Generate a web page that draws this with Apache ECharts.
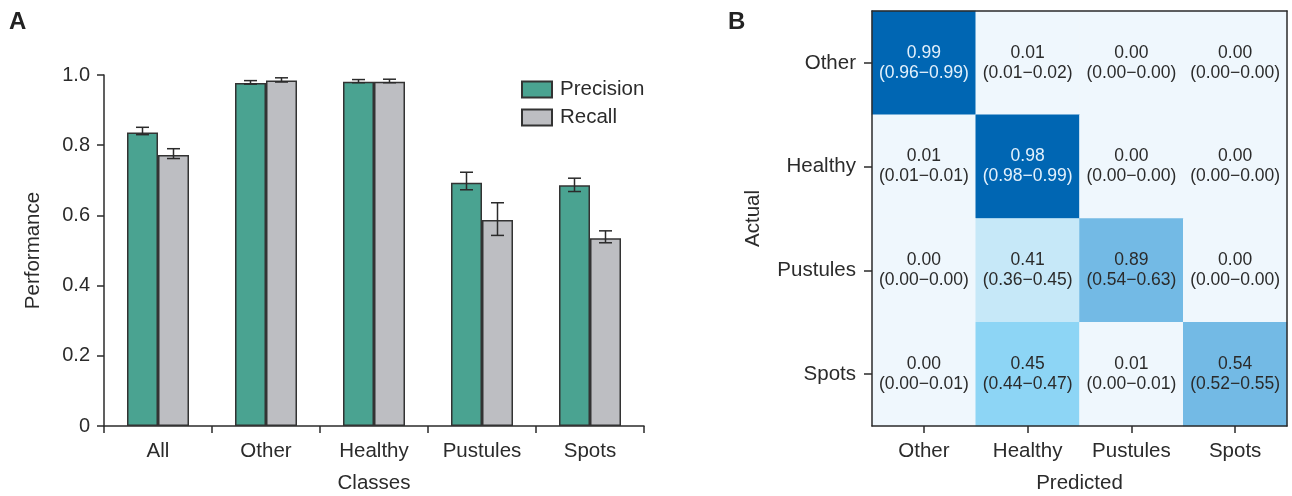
<!DOCTYPE html>
<html>
<head>
<meta charset="utf-8">
<script src="https://cdn.jsdelivr.net/npm/echarts@6/dist/echarts.min.js"></script>
<style>
  html, body { margin: 0; padding: 0; background: #fff; }
  #main { width: 1292px; height: 496px; }
</style>
</head>
<body>
<div id="main"></div>
<script>
'use strict'
// panel A data
var classes = ['All', 'Other', 'Healthy', 'Pustules', 'Spots'];
var precision = [0.836, 0.977, 0.981, 0.693, 0.686];
var precisionLow = [0.830, 0.974, 0.978, 0.673, 0.668];
var precisionHigh = [0.851, 0.984, 0.987, 0.723, 0.706];
var recall = [0.772, 0.984, 0.981, 0.587, 0.535];
var recallLow = [0.762, 0.980, 0.978, 0.543, 0.522];
var recallHigh = [0.790, 0.992, 0.988, 0.636, 0.556];
var yTicks = [0, 0.2, 0.4, 0.6, 0.8, 1.0];

// panel B data (rows = actual, cols = predicted)
var cmLabels = ['Other', 'Healthy', 'Pustules', 'Spots'];
var cmValues = [
    [0.99, 0.01, 0.00, 0.00],
    [0.01, 0.98, 0.00, 0.00],
    [0.00, 0.41, 0.89, 0.00],
    [0.00, 0.45, 0.01, 0.54]
];
var cmLow = [
    [0.96, 0.01, 0.00, 0.00],
    [0.01, 0.98, 0.00, 0.00],
    [0.00, 0.36, 0.54, 0.00],
    [0.00, 0.44, 0.00, 0.52]
];
var cmHigh = [
    [0.99, 0.02, 0.00, 0.00],
    [0.01, 0.99, 0.00, 0.00],
    [0.00, 0.45, 0.63, 0.00],
    [0.01, 0.47, 0.01, 0.55]
];

var FONT = '"Liberation Sans", Arial, sans-serif';
var INK = '#2b2b2b';
var BAR_W = 31;
var FS = 20.5;

var heatData = [];
cmValues.forEach(function(row, r){
    row.forEach(function(v, c){
        var item = { value: [c, r, v, cmLow[r][c], cmHigh[r][c]] };
        // light text on the darkest cells
        if (v >= 0.95) item.label = { color: '#e3f1fc' };
        heatData.push(item);
    });
});

function errorSeries(name, lows, highs, shift){
    return {
        type: 'custom',
        name: name + ' err',
        xAxisIndex: 0, yAxisIndex: 0,
        z: 5,
        data: lows.map(function(l, i){ return [i, l, highs[i]]; }),
        renderItem: function(params, api){
            var lo = api.coord([api.value(0), api.value(1)]);
            var hi = api.coord([api.value(0), api.value(2)]);
            var x = lo[0] + shift;
            var cap = 6.5;
            var st = { stroke: INK, lineWidth: 1.5 };
            return {
                type: 'group',
                children: [
                    { type: 'line', shape: { x1: x, y1: lo[1], x2: x, y2: hi[1] }, style: st },
                    { type: 'line', shape: { x1: x - cap, y1: lo[1], x2: x + cap, y2: lo[1] }, style: st },
                    { type: 'line', shape: { x1: x - cap, y1: hi[1], x2: x + cap, y2: hi[1] }, style: st }
                ]
            };
        }
    };
}

var tickStyle = { show: true, length: 7, lineStyle: { color: INK, width: 1.5 } };
var lineStyle = { show: true, lineStyle: { color: INK, width: 1.5 } };
var panelTitle = { fontFamily: FONT, fontSize: 24, fontWeight: 'bold', color: '#222' };

var chart = echarts.init(document.getElementById('main'));
chart.setOption({
    animation: false,
    textStyle: { fontFamily: FONT },
    title: [
        { text: 'A', left: 9, top: 10, padding: 0, textStyle: panelTitle },
        { text: 'B', left: 728, top: 10, padding: 0, textStyle: panelTitle }
    ],
    legend: {
        data: ['Precision', 'Recall'],
        orient: 'vertical',
        left: 516, top: 74,
        itemWidth: 30, itemHeight: 16, itemGap: 7,
        icon: 'rect',
        textStyle: { fontFamily: FONT, fontSize: FS, color: INK, padding: [0, 0, 0, 3] }
    },
    grid: [
        { left: 104, right: 648, top: 75, bottom: 70, containLabel: false, outerBoundsMode: 'none' },
        { left: 872, right: 5, top: 11, bottom: 70, containLabel: false, outerBoundsMode: 'none' }
    ],
    visualMap: {
        show: false,
        type: 'piecewise',
        seriesIndex: 4,
        dimension: 2,
        pieces: [
            { lt: 0.3, color: '#eff7fd' },
            { gte: 0.3, lt: 0.43, color: '#c6e8f8' },
            { gte: 0.43, lt: 0.5, color: '#8dd5f5' },
            { gte: 0.5, lt: 0.95, color: '#73bae5' },
            { gte: 0.95, color: '#0066b3' }
        ]
    },
    xAxis: [
        {
            type: 'category', gridIndex: 0, data: classes,
            name: 'Classes', nameLocation: 'middle', nameGap: 47,
            nameTextStyle: { fontSize: FS, color: INK },
            axisLine: lineStyle,
            axisTick: tickStyle,
            axisLabel: { fontSize: FS, color: INK, margin: 15 }
        },
        {
            type: 'category', gridIndex: 1, data: cmLabels,
            name: 'Predicted', nameLocation: 'middle', nameGap: 47,
            nameTextStyle: { fontSize: FS, color: INK },
            axisLine: lineStyle,
            axisTick: { show: true, alignWithLabel: true, length: 7, lineStyle: { color: INK, width: 1.5 } },
            axisLabel: { fontSize: FS, color: INK, margin: 15 },
            z: 10
        },
        {
            type: 'category', gridIndex: 1, data: cmLabels, position: 'top',
            axisLine: lineStyle,
            axisTick: { show: false }, axisLabel: { show: false },
            z: 10
        }
    ],
    yAxis: [
        {
            type: 'value', gridIndex: 0, min: 0, max: 1, interval: 0.2,
            name: 'Performance', nameLocation: 'middle', nameGap: 60,
            nameTextStyle: { fontSize: FS, color: INK },
            axisLine: lineStyle,
            axisTick: tickStyle,
            axisLabel: {
                fontSize: 20, color: INK, margin: 14,
                formatter: function(v){
                    var t = yTicks.filter(function(k){ return Math.abs(k - v) < 1e-6; })[0];
                    return t === 0 ? '0' : t.toFixed(1);
                }
            },
            splitLine: { show: false }
        },
        {
            type: 'category', gridIndex: 1, data: cmLabels, inverse: true,
            name: 'Actual', nameLocation: 'middle', nameGap: 108,
            nameTextStyle: { fontSize: FS, color: INK },
            axisLine: lineStyle,
            axisTick: { show: true, alignWithLabel: true, length: 8, lineStyle: { color: INK, width: 1.5 } },
            axisLabel: { fontSize: FS, color: INK, margin: 16 },
            z: 10
        },
        {
            type: 'category', gridIndex: 1, data: cmLabels, inverse: true, position: 'right',
            axisLine: lineStyle,
            axisTick: { show: false }, axisLabel: { show: false },
            z: 10
        }
    ],
    series: [
        {
            name: 'Precision', type: 'bar', xAxisIndex: 0, yAxisIndex: 0,
            data: precision, barWidth: BAR_W, barGap: '0%',
            itemStyle: { color: '#4aa391', borderColor: '#333', borderWidth: 1.5 }
        },
        {
            name: 'Recall', type: 'bar', xAxisIndex: 0, yAxisIndex: 0,
            data: recall, barWidth: BAR_W, barGap: '0%',
            itemStyle: { color: '#bdbec2', borderColor: '#333', borderWidth: 1.5 }
        },
        errorSeries('Precision', precisionLow, precisionHigh, -BAR_W / 2),
        errorSeries('Recall', recallLow, recallHigh, BAR_W / 2),
        {
            name: 'Confusion', type: 'heatmap', xAxisIndex: 1, yAxisIndex: 1,
            data: heatData,
            label: {
                show: true,
                fontFamily: FONT,
                fontSize: 17.5,
                lineHeight: 20,
                color: INK,
                formatter: function(p){
                    return p.value[2].toFixed(2) + '\n(' + p.value[3].toFixed(2) + '\u2212' + p.value[4].toFixed(2) + ')';
                }
            }
        }
    ]
});
</script>
</body>
</html>
